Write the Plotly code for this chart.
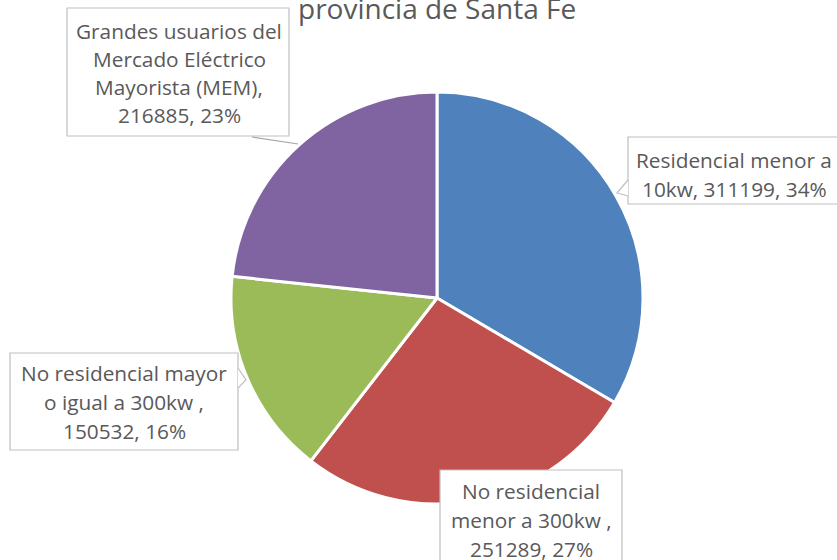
import plotly.graph_objects as go

W, H = 837, 560

# ---- data ----
categories = [
    "Residencial menor a 10kw",
    "No residencial menor a 300kw ",
    "No residencial mayor o igual a 300kw ",
    "Grandes usuarios del Mercado Eléctrico Mayorista (MEM)",
]
values = [311199, 251289, 150532, 216885]
percent_labels = ["34%", "27%", "16%", "23%"]
colors = ["#4F81BD", "#C0504D", "#9BBB59", "#8064A2"]
label_lines = [
    ["Residencial menor a", "10kw, {v}, {p}"],
    ["No residencial", "menor a 300kw ,", "{v}, {p}"],
    ["No residencial mayor", "o igual a 300kw ,", "{v}, {p}"],
    ["Grandes usuarios del", "Mercado Eléctrico", "Mayorista (MEM),", "{v}, {p}"],
]
title_text = "provincia de Santa Fe"

# ---- layout helpers (pixel -> paper) ----
def px(x):
    return x / W

def py(y):
    return 1 - y / H

cx, cy, r = 437, 298, 206

fig = go.Figure(go.Pie(
    labels=categories,
    values=values,
    sort=False,
    direction="clockwise",
    rotation=0,
    marker=dict(colors=colors, line=dict(color="white", width=3)),
    textinfo="none",
    hoverinfo="label+value+percent",
    domain=dict(x=[px(cx - r), px(cx + r)], y=[py(cy + r), py(cy - r)]),
    showlegend=False,
))

# callout geometry: box (x0, y0, x1, y1), text centre x, first line y, spacing
boxes = [
    dict(box=(628, 137, 850, 204), tx=734, ty=160, dy=28.5,
         notch=[(628, 180), (617, 193), (628, 196)]),
    dict(box=(440, 470, 622, 580), tx=531, ty=491, dy=29,
         notch=None),
    dict(box=(10, 353, 238, 450), tx=124, ty=373, dy=29,
         notch=[(238, 368), (246, 380), (238, 388)]),
    dict(box=(67, 8, 289, 136), tx=179, ty=31, dy=28,
         notch=None),
]

shapes = []
annotations = []
font = dict(family="Open Sans", size=20.8, color="#595959")
for i, b in enumerate(boxes):
    x0, y0, x1, y1 = b["box"]
    shapes.append(dict(type="rect", xref="paper", yref="paper",
                       x0=px(x0), x1=px(x1), y0=py(y1), y1=py(y0),
                       line=dict(color="#BFBFBF", width=1.2),
                       fillcolor="white", layer="above"))
    if b["notch"]:
        pts = b["notch"]
        path = "M {} {} L {} {} L {} {}".format(
            px(pts[0][0]), py(pts[0][1]), px(pts[1][0]), py(pts[1][1]),
            px(pts[2][0]), py(pts[2][1]))
        shapes.append(dict(type="path", xref="paper", yref="paper", path=path,
                           line=dict(color="#BFBFBF", width=1.2),
                           fillcolor="white", layer="above"))
    for j, line in enumerate(label_lines[i]):
        txt = line.format(v=values[i], p=percent_labels[i])
        annotations.append(dict(
            x=px(b["tx"]), y=py(b["ty"] + j * b["dy"]),
            xref="paper", yref="paper", xanchor="center", yanchor="middle",
            text=txt, showarrow=False, font=font))

# leader line for the purple slice
shapes.append(dict(type="line", xref="paper", yref="paper",
                   x0=px(252), y0=py(137), x1=px(298), y1=py(144),
                   line=dict(color="#A6A6A6", width=1.2), layer="above"))

# title (first line falls outside the visible area)
annotations.append(dict(
    x=px(437), y=py(8), xref="paper", yref="paper",
    xanchor="center", yanchor="middle", text=title_text, showarrow=False,
    font=dict(family="Open Sans", size=28, color="#595959")))

fig.update_layout(
    width=W, height=H,
    margin=dict(l=0, r=0, t=0, b=0),
    paper_bgcolor="white",
    plot_bgcolor="white",
    shapes=shapes,
    annotations=annotations,
)

fig.write_html("out.html",
               config={"displayModeBar": False},
               post_script="document.body.style.margin='0';")
